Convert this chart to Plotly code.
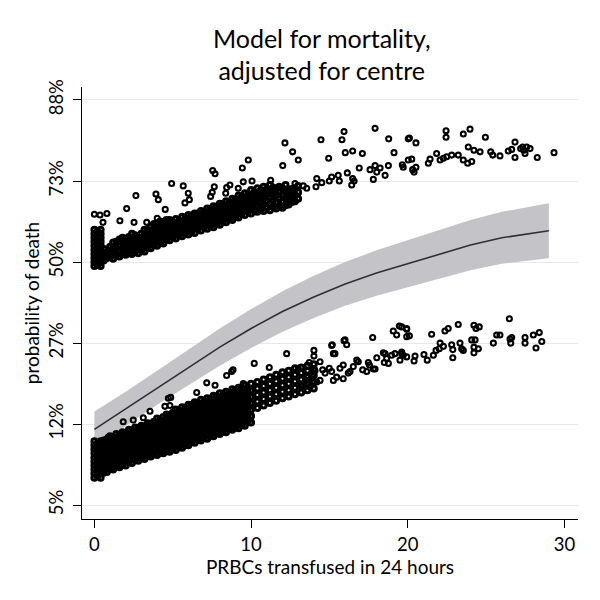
import plotly.graph_objects as go

# ---- fitted curve and 95% band (log-odds of death) ----
fit_x = [0, 2, 4, 6, 8, 10, 12, 14, 16, 18, 20, 22, 24, 26, 28, 29]
fit_logodds = [-2.065, -1.81, -1.55, -1.30, -1.05, -0.82, -0.61, -0.43, -0.27, -0.135,
               -0.02, 0.10, 0.21, 0.30, 0.36, 0.386]
ci_upper = [-1.845, -1.60, -1.34, -1.08, -0.82, -0.58, -0.36, -0.17, 0.0, 0.145,
            0.27, 0.40, 0.52, 0.62, 0.695, 0.726]
ci_lower = [-2.285, -2.02, -1.76, -1.52, -1.28, -1.06, -0.86, -0.69, -0.54, -0.415,
            -0.31, -0.20, -0.10, -0.02, 0.025, 0.046]

# ---- axis ticks ----
x_ticks = [0, 10, 20, 30]
y_ticks = [-3, -2, -1, 0, 1, 2]
y_tick_text = ["5%", "12%", "27%", "50%", "73%", "88%"]

# ---- patient-level predictions, lower group (x = PRBCs, y = log-odds) ----
# densely overlapping columns
lower_cols = [
    (0.0, [-2.66, -2.61, -2.56, -2.51, -2.46, -2.41, -2.36, -2.31, -2.26, -2.21]),
    (0.2, [-2.64, -2.59, -2.54, -2.49, -2.44, -2.39, -2.34, -2.29, -2.24]),
    (0.4, [-2.66, -2.61, -2.56, -2.51, -2.46, -2.41, -2.36, -2.31, -2.26, -2.21]),
    (0.6, [-2.60, -2.55, -2.50, -2.45, -2.40, -2.35, -2.30, -2.25, -2.20]),
    (0.8, [-2.59, -2.54, -2.49, -2.44, -2.39, -2.34, -2.29, -2.24, -2.19]),
    (1.0, [-2.55, -2.50, -2.45, -2.40, -2.35, -2.30, -2.25, -2.20, -2.15]),
    (1.2, [-2.56, -2.51, -2.46, -2.41, -2.36, -2.31, -2.26, -2.21, -2.16]),
    (1.4, [-2.52, -2.47, -2.42, -2.37, -2.32, -2.27, -2.22, -2.17, -2.12]),
    (1.6, [-2.53, -2.48, -2.43, -2.38, -2.33, -2.28, -2.23, -2.18, -2.13]),
    (1.8, [-2.50, -2.45, -2.40, -2.35, -2.30, -2.25, -2.20, -2.15, -2.10]),
    (2.0, [-2.51, -2.46, -2.41, -2.36, -2.31, -2.26, -2.21, -2.16, -2.11]),
    (2.2, [-2.47, -2.42, -2.37, -2.32, -2.27, -2.22, -2.17, -2.12, -2.07]),
    (2.4, [-2.48, -2.43, -2.38, -2.33, -2.28, -2.23, -2.18, -2.13, -2.08]),
    (2.6, [-2.44, -2.39, -2.34, -2.29, -2.24, -2.19, -2.14, -2.09, -2.04]),
    (2.8, [-2.45, -2.40, -2.35, -2.30, -2.25, -2.20, -2.15, -2.10, -2.05]),
    (3.0, [-2.42, -2.37, -2.32, -2.27, -2.22, -2.17, -2.12, -2.07, -2.02]),
    (3.2, [-2.43, -2.38, -2.33, -2.28, -2.23, -2.18, -2.13, -2.08, -2.03]),
    (3.4, [-2.39, -2.34, -2.29, -2.24, -2.19, -2.14, -2.09, -2.04, -1.99]),
    (3.6, [-2.40, -2.35, -2.30, -2.25, -2.20, -2.15, -2.10, -2.05, -2.00]),
    (3.8, [-2.37, -2.32, -2.27, -2.22, -2.17, -2.12, -2.07, -2.02, -1.97]),
    (4.0, [-2.38, -2.33, -2.28, -2.23, -2.18, -2.13, -2.08, -2.03, -1.98, -1.93]),
    (4.2, [-2.35, -2.30, -2.25, -2.20, -2.15, -2.10, -2.05, -2.00, -1.95]),
    (4.4, [-2.36, -2.31, -2.26, -2.21, -2.16, -2.11, -2.06, -2.01, -1.96, -1.91]),
    (4.6, [-2.33, -2.28, -2.23, -2.18, -2.13, -2.08, -2.03, -1.98, -1.93, -1.88]),
    (4.8, [-2.34, -2.29, -2.24, -2.19, -2.14, -2.09, -2.04, -1.99, -1.94, -1.89]),
    (5.0, [-2.31, -2.26, -2.21, -2.16, -2.11, -2.06, -2.01, -1.96, -1.91, -1.86]),
    (5.2, [-2.32, -2.27, -2.22, -2.17, -2.12, -2.07, -2.02, -1.97, -1.92, -1.87, -1.82]),
    (5.4, [-2.28, -2.23, -2.18, -2.13, -2.08, -2.03, -1.98, -1.93, -1.88, -1.83]),
    (5.6, [-2.29, -2.24, -2.19, -2.14, -2.09, -2.04, -1.99, -1.94, -1.89, -1.84, -1.79]),
    (5.8, [-2.25, -2.20, -2.15, -2.10, -2.05, -2.00, -1.95, -1.90, -1.85, -1.80]),
    (6.0, [-2.26, -2.21, -2.16, -2.11, -2.06, -2.01, -1.96, -1.91, -1.86, -1.81, -1.76]),
    (6.2, [-2.22, -2.17, -2.12, -2.07, -2.02, -1.97, -1.92, -1.87, -1.82, -1.77]),
    (6.4, [-2.23, -2.18, -2.13, -2.08, -2.03, -1.98, -1.93, -1.88, -1.83, -1.78, -1.73]),
    (6.6, [-2.19, -2.14, -2.09, -2.04, -1.99, -1.94, -1.89, -1.84, -1.79, -1.74]),
    (6.8, [-2.20, -2.15, -2.10, -2.05, -2.00, -1.95, -1.90, -1.85, -1.80, -1.75, -1.70]),
    (7.0, [-2.17, -2.12, -2.07, -2.02, -1.97, -1.92, -1.87, -1.82, -1.77, -1.72]),
    (7.2, [-2.18, -2.13, -2.08, -2.03, -1.98, -1.93, -1.88, -1.83, -1.78, -1.73, -1.68]),
    (7.4, [-2.14, -2.09, -2.04, -1.99, -1.94, -1.89, -1.84, -1.79, -1.74, -1.69]),
    (7.6, [-2.15, -2.10, -2.05, -2.00, -1.95, -1.90, -1.85, -1.80, -1.75, -1.70, -1.65]),
    (7.8, [-2.11, -2.06, -2.01, -1.96, -1.91, -1.86, -1.81, -1.76, -1.71, -1.66]),
    (8.0, [-2.12, -2.07, -2.02, -1.97, -1.92, -1.87, -1.82, -1.77, -1.72, -1.67, -1.62]),
    (8.2, [-2.09, -2.04, -1.99, -1.94, -1.89, -1.84, -1.79, -1.74, -1.69, -1.64]),
    (8.4, [-2.10, -2.05, -2.00, -1.95, -1.90, -1.85, -1.80, -1.75, -1.70, -1.65, -1.60]),
    (8.6, [-2.06, -2.01, -1.96, -1.91, -1.86, -1.81, -1.76, -1.71, -1.66, -1.61]),
    (8.8, [-2.07, -2.02, -1.97, -1.92, -1.87, -1.82, -1.77, -1.72, -1.67, -1.62, -1.57]),
    (9.0, [-2.04, -1.99, -1.94, -1.89, -1.84, -1.79, -1.74, -1.69, -1.64, -1.59]),
    (9.2, [-2.05, -2.00, -1.95, -1.90, -1.85, -1.80, -1.75, -1.70, -1.65, -1.60, -1.55]),
    (9.4, [-2.01, -1.96, -1.91, -1.86, -1.81, -1.76, -1.71, -1.66, -1.61, -1.56]),
    (9.6, [-2.02, -1.97, -1.92, -1.87, -1.82, -1.77, -1.72, -1.67, -1.62, -1.57, -1.52]),
    (9.8, [-1.96, -1.88, -1.80, -1.72, -1.64, -1.56]),
    (10.0, [-1.98, -1.90, -1.82, -1.74, -1.66, -1.58, -1.50]),
    (10.4, [-1.80, -1.72, -1.64, -1.56, -1.48]),
    (10.8, [-1.77, -1.69, -1.61, -1.53, -1.45]),
    (11.2, [-1.74, -1.66, -1.58, -1.50, -1.42]),
    (11.6, [-1.71, -1.63, -1.55, -1.47, -1.39]),
    (12.0, [-1.68, -1.60, -1.52, -1.44, -1.36]),
    (12.4, [-1.66, -1.58, -1.50, -1.42, -1.34]),
    (12.8, [-1.63, -1.55, -1.47, -1.39, -1.31]),
    (13.2, [-1.61, -1.53, -1.45, -1.37, -1.30]),
    (13.6, [-1.58, -1.50, -1.42, -1.34, -1.28]),
    (14.0, [-1.56, -1.48, -1.40, -1.32, -1.26]),
]
# individually visible points
lower_extra = [
    (8.44, -1.40), (8.76, -1.35), (8.85, -1.33), (7.17, -1.49), (7.70, -1.52), (6.53, -1.61),
    (4.82, -1.77), (4.72, -1.68), (3.55, -1.84), (2.48, -1.95), (1.84, -1.97), (0.89, -2.16),
    (0.68, -2.20), (9.50, -1.50), (3.12, -1.92), (4.87, -1.67), (4.5, -1.78),
    (10.2, -1.25), (11.16, -1.30), (12.27, -1.13), (14.01, -1.09), (14.01, -1.16), (14.4, -1.23),
    (15.18, -1.02), (15.35, -1.13), (15.99, -0.96), (16.1, -1.02), (17.76, -0.93), (19.07, -0.85),
    (19.46, -0.79), (19.29, -0.90), (19.93, -0.83), (19.93, -0.92), (13.01, -1.31), (13.71, -1.24),
    (18.44, -1.12), (18.65, -1.19), (18.76, -1.25), (19.18, -1.13), (19.5, -1.21), (19.61, -1.11),
    (19.71, -1.15), (17.91, -1.32), (18.02, -1.18), (17.48, -1.24), (17.38, -1.35), (17.12, -1.33),
    (16.74, -1.21), (16.52, -1.29), (16.31, -1.35), (15.88, -1.27), (15.67, -1.31), (15.46, -1.42),
    (15.14, -1.35), (14.99, -1.31), (14.72, -1.37), (14.57, -1.33), (14.19, -1.48), (14.08, -1.34),
    (13.87, -1.40), (13.76, -1.54), (13.55, -1.46), (13.33, -1.52),
    (14.4, -1.46), (15.25, -1.46), (15.88, -1.44), (16.2, -1.37), (16.84, -1.23), (17.55, -1.27),
    (17.8, -1.32), (18.55, -1.13), (18.5, -1.24), (18.97, -1.15), (15.25, -1.13), (15.14, -1.03),
    (15.93, -0.97),
    (19.61, -0.80), (19.93, -0.82), (20.1, -0.91), (21.52, -0.89), (22.37, -0.85), (22.58, -0.82),
    (23.22, -0.77), (24.22, -0.78), (24.35, -0.82), (24.56, -0.80), (26.48, -0.70), (25.67, -0.90),
    (25.88, -0.90), (25.46, -1.00), (26.52, -0.95), (26.63, -0.93), (26.57, -1.00), (27.48, -0.93),
    (27.48, -1.00), (28.01, -0.90), (28.39, -0.87), (28.55, -0.98), (28.18, -1.06),
    (19.61, -1.13), (19.93, -1.17), (20.46, -1.16), (20.4, -1.22), (21.03, -1.14), (21.24, -1.21),
    (21.63, -1.15), (21.8, -1.09), (22.06, -1.00), (22.01, -1.07), (22.27, -1.04), (22.8, -1.02),
    (22.87, -1.08), (22.87, -1.18), (23.33, -1.00), (23.44, -1.07), (23.54, -1.09), (24.08, -0.96),
    (24.29, -0.96), (24.22, -1.05), (24.22, -1.12), (24.5, -1.07),
]

# ---- patient-level predictions, upper group ----
upper_cols = [
    (0.0, [-0.05, 0.0, 0.05, 0.10, 0.15, 0.20, 0.25, 0.30, 0.35, 0.40]),
    (0.2, [-0.03, 0.02, 0.07, 0.12, 0.17, 0.22, 0.27, 0.32, 0.37]),
    (0.4, [-0.05, 0.0, 0.05, 0.10, 0.15, 0.20, 0.25, 0.30, 0.35, 0.40]),
    (0.6, [0.02, 0.09, 0.16]),
    (0.8, [0.05, 0.12]),
    (1.0, [0.06, 0.13, 0.19]),
    (1.2, [0.04, 0.11, 0.18, 0.24]),
    (1.4, [0.09, 0.17, 0.25]),
    (1.6, [0.07, 0.14, 0.21, 0.28]),
    (1.8, [0.10, 0.17, 0.24, 0.30]),
    (2.0, [0.09, 0.15, 0.21, 0.28]),
    (2.2, [0.12, 0.18, 0.24, 0.31]),
    (2.4, [0.10, 0.16, 0.22, 0.29, 0.35]),
    (2.6, [0.13, 0.19, 0.26, 0.33]),
    (2.8, [0.11, 0.17, 0.24, 0.30]),
    (3.0, [0.15, 0.21, 0.28, 0.35]),
    (3.2, [0.13, 0.19, 0.26, 0.33, 0.40]),
    (3.4, [0.18, 0.24, 0.31, 0.38]),
    (3.6, [0.17, 0.23, 0.30, 0.37, 0.44]),
    (3.8, [0.21, 0.27, 0.34, 0.41, 0.47]),
    (4.0, [0.20, 0.27, 0.33, 0.40, 0.47]),
    (4.2, [0.24, 0.30, 0.37, 0.44, 0.50]),
    (4.4, [0.23, 0.30, 0.37, 0.43, 0.49]),
    (4.6, [0.28, 0.34, 0.40, 0.46, 0.52]),
    (4.8, [0.27, 0.34, 0.40, 0.46, 0.52]),
    (5.0, [0.31, 0.37, 0.43, 0.49]),
    (5.2, [0.29, 0.35, 0.41, 0.47, 0.53]),
    (5.4, [0.33, 0.39, 0.45, 0.51]),
    (5.6, [0.32, 0.38, 0.44, 0.50, 0.56]),
    (5.8, [0.36, 0.42, 0.48, 0.54]),
    (6.0, [0.34, 0.40, 0.46, 0.52, 0.58]),
    (6.2, [0.38, 0.44, 0.50, 0.57]),
    (6.4, [0.36, 0.42, 0.48, 0.54, 0.60]),
    (6.6, [0.41, 0.47, 0.53, 0.60]),
    (6.8, [0.39, 0.45, 0.51, 0.57, 0.63]),
    (7.0, [0.43, 0.49, 0.55, 0.62]),
    (7.2, [0.41, 0.47, 0.53, 0.60, 0.66]),
    (7.4, [0.45, 0.51, 0.58, 0.65]),
    (7.6, [0.43, 0.50, 0.56, 0.63, 0.69]),
    (7.8, [0.47, 0.54, 0.61, 0.68]),
    (8.0, [0.46, 0.52, 0.59, 0.66, 0.72]),
    (8.2, [0.50, 0.57, 0.64, 0.71]),
    (8.4, [0.49, 0.55, 0.62, 0.69, 0.75]),
    (8.6, [0.53, 0.60, 0.67, 0.74]),
    (8.8, [0.52, 0.58, 0.65, 0.72, 0.78]),
    (9.0, [0.56, 0.63, 0.70, 0.77]),
    (9.2, [0.55, 0.62, 0.69, 0.76, 0.82]),
    (9.4, [0.60, 0.67, 0.74, 0.80]),
    (9.6, [0.58, 0.65, 0.72, 0.79, 0.85]),
    (9.8, [0.62, 0.69, 0.76, 0.83]),
    (10.0, [0.60, 0.68, 0.75, 0.82, 0.89]),
    (10.2, [0.64, 0.71, 0.78, 0.86]),
    (10.4, [0.62, 0.69, 0.77, 0.84, 0.91]),
    (10.6, [0.65, 0.73, 0.81, 0.88]),
    (10.8, [0.63, 0.71, 0.79, 0.86, 0.93]),
    (11.0, [0.67, 0.75, 0.83, 0.90]),
    (11.2, [0.64, 0.72, 0.80, 0.88, 0.95]),
    (11.4, [0.68, 0.76, 0.84, 0.92]),
    (11.6, [0.66, 0.74, 0.82, 0.90]),
    (11.8, [0.69, 0.78, 0.86, 0.93]),
    (12.0, [0.67, 0.75, 0.83, 0.91]),
    (12.2, [0.70, 0.79, 0.87, 0.95]),
    (12.4, [0.71, 0.79, 0.87]),
    (12.6, [0.74, 0.82, 0.90]),
    (12.8, [0.75, 0.83, 0.91]),
    (13.0, [0.78, 0.86, 0.94]),
]
upper_extra = [
    (0.0, 0.59), (0.36, 0.58), (0.8, 0.60), (0.55, 0.49),
    (2.65, 0.82), (2.06, 0.66), (1.63, 0.51), (2.53, 0.49), (3.34, 0.49), (3.93, 0.84), (4.08, 0.77),
    (4.01, 0.54), (4.52, 0.65), (4.93, 0.97), (5.67, 0.94), (5.99, 0.85), (6.06, 0.77), (5.78, 0.73),
    (7.55, 1.13), (7.70, 1.09), (7.65, 0.93), (7.52, 0.86), (7.42, 0.81), (8.38, 0.85), (8.44, 0.92),
    (8.65, 0.95), (9.18, 0.91), (9.44, 1.16), (9.82, 1.26), (9.50, 0.99),
    (12.16, 1.47), (12.65, 1.36), (13.01, 1.26), (12.02, 1.19), (14.46, 1.51), (15.93, 1.61),
    (15.8, 1.51), (16.01, 1.35), (16.48, 1.37), (17.1, 1.34), (14.95, 1.28), (17.91, 1.65),
    (18.78, 1.52), (19.12, 1.35), (20.03, 1.52), (10.06, 1.0), (11.25, 1.01),
    (12.8, 0.97), (13.33, 0.94), (13.55, 0.91), (14.19, 1.03), (14.14, 0.93), (14.51, 0.98),
    (14.99, 1.0), (15.14, 1.05), (15.56, 1.07), (15.63, 1.0), (16.14, 1.10), (16.48, 1.03),
    (16.57, 1.0), (16.42, 0.95), (16.9, 1.16), (17.59, 1.14), (17.91, 1.19), (18.02, 1.11),
    (17.8, 1.02), (18.23, 1.16), (18.55, 1.07), (18.76, 1.19), (19.65, 1.20), (19.71, 1.17),
    (20.03, 1.26),
    (20.1, 1.53), (20.52, 1.47), (22.44, 1.62), (22.44, 1.54), (23.54, 1.58), (23.97, 1.64),
    (24.95, 1.54), (20.25, 1.27), (20.31, 1.14), (20.52, 1.17), (20.4, 1.11), (21.31, 1.22),
    (21.42, 1.27), (21.84, 1.34), (22.06, 1.26), (22.27, 1.28), (22.48, 1.30), (22.8, 1.32),
    (23.22, 1.32), (23.54, 1.26), (23.86, 1.42), (23.82, 1.22), (24.08, 1.24), (24.22, 1.38),
    (24.61, 1.36), (25.29, 1.36), (25.42, 1.32), (25.88, 1.31), (26.41, 1.37), (26.63, 1.39),
    (26.84, 1.48), (26.84, 1.29), (27.33, 1.42), (27.59, 1.42), (27.48, 1.34), (27.8, 1.40),
    (27.4, 1.38), (27.2, 1.40), (28.26, 1.29), (29.33, 1.35),
]


def flatten_cols(cols):
    xs, ys = [], []
    for x, col in cols:
        for y in col:
            xs.append(x)
            ys.append(y)
    return xs, ys


dense_lo_x, dense_lo_y = flatten_cols(lower_cols)
dense_up_x, dense_up_y = flatten_cols(upper_cols)
dense_x = dense_lo_x + dense_up_x
dense_y = dense_lo_y + dense_up_y
single_x = [p[0] for p in lower_extra] + [p[0] for p in upper_extra]
single_y = [p[1] for p in lower_extra] + [p[1] for p in upper_extra]

FONT = "Lato, 'Open Sans', sans-serif"

fig = go.Figure()
fig.add_trace(go.Scatter(x=fit_x, y=ci_lower, mode="lines", line=dict(width=0, color="#c4c4c8"),
                         showlegend=False, hoverinfo="skip"))
fig.add_trace(go.Scatter(x=fit_x, y=ci_upper, mode="lines", line=dict(width=0, color="#c4c4c8"),
                         fill="tonexty", fillcolor="#c4c4c8", showlegend=False, hoverinfo="skip"))
fig.add_trace(go.Scatter(x=fit_x, y=fit_logodds, mode="lines", line=dict(width=1.6, color="#303030"),
                         showlegend=False))
fig.add_trace(go.Scatter(x=dense_x, y=dense_y, mode="markers", showlegend=False,
                         marker=dict(symbol="circle-open", size=5, color="black",
                                     line=dict(width=3, color="black"))))
fig.add_trace(go.Scatter(x=single_x, y=single_y, mode="markers", showlegend=False,
                         marker=dict(symbol="circle-open", size=5, color="black",
                                     line=dict(width=2.1, color="black"))))

# the page body adds an 8px offset, so the figure is 592px and margins are shifted by 8px
fig.update_layout(
    width=592, height=592,
    margin=dict(l=74, r=22, t=79, b=81),
    paper_bgcolor="white", plot_bgcolor="white",
    font=dict(family=FONT, color="black"),
    title=dict(text="Model for mortality,<br>adjusted for centre", x=0.530, xanchor="center",
               y=0.933, yanchor="middle", yref="container", font=dict(size=25, family=FONT)),
)
fig.update_xaxes(
    range=[-0.79, 30.86], tickvals=x_ticks, ticks="outside", ticklen=8, tickwidth=1.2,
    tickcolor="black", showline=True, linecolor="black", linewidth=1.3, showgrid=False,
    zeroline=False, tickfont=dict(size=18.5), ticklabelstandoff=1, automargin=False,
    title=dict(text="PRBCs transfused in 24 hours", font=dict(size=19), standoff=0),
)
fig.update_yaxes(
    range=[-3.17, 2.16], tickvals=y_ticks, ticktext=y_tick_text, tickangle=-90,
    ticks="outside", ticklen=8, tickwidth=1.2, tickcolor="black", showline=True,
    linecolor="black", linewidth=1.3, showgrid=True, gridcolor="#e8e8e8", gridwidth=1.3,
    zeroline=False, tickfont=dict(size=18.5), ticklabelstandoff=2, automargin=False,
    title=dict(text="probability of death", font=dict(size=19), standoff=0),
)

fig.write_html("out.html")
